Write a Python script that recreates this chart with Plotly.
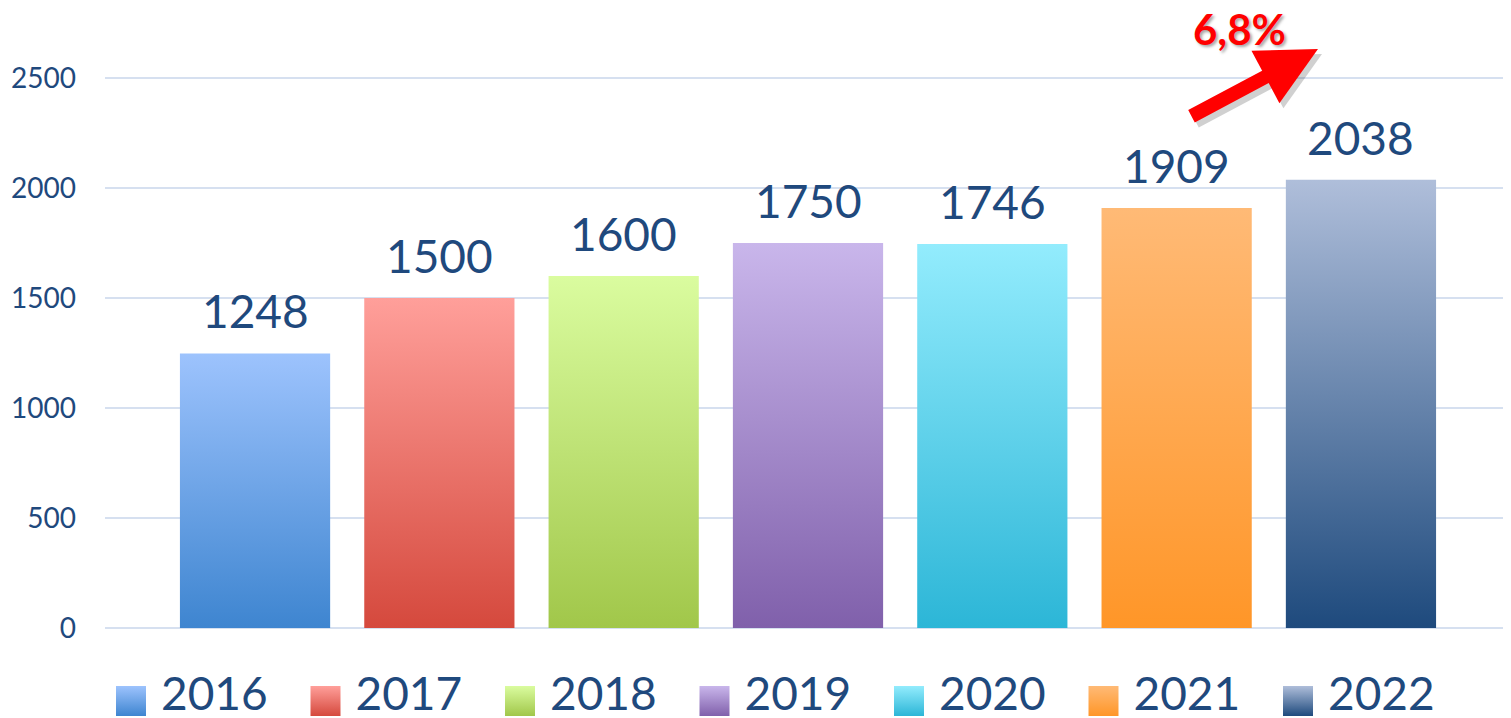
import plotly.graph_objects as go

years = ["2016", "2017", "2018", "2019", "2020", "2021", "2022"]
values = [1248, 1500, 1600, 1750, 1746, 1909, 2038]
top_colors = ["#9DC3FD", "#FF9F9A", "#DAFC9F", "#C9B6EB", "#93ECFD", "#FFBA76", "#AFBEDA"]
bottom_colors = ["#3E85D0", "#D5493D", "#A1C74A", "#8060AB", "#2CB6D7", "#FF9628", "#1E4A7D"]
y_ticks = [0, 500, 1000, 1500, 2000, 2500]
growth_label = "6,8%"

OFF = 8                      # page body margin
W, H = 1511 - OFF, 718 - OFF
TXT = "#1F497D"
FONT = "Lato"

bar_w = 0.815
px_per_cat = 184.33
px_per_unit = 0.22
zero_px = 628 - OFF          # figure pixel of y=0

fig = go.Figure()

# gradient bars (polygons in data coordinates built from the values)
for i, (yr, v) in enumerate(zip(years, values)):
    xs = [i - bar_w / 2, i + bar_w / 2, i + bar_w / 2, i - bar_w / 2, i - bar_w / 2]
    ys = [0, 0, v, v, 0]
    fig.add_trace(go.Scatter(
        x=xs, y=ys, mode="lines", fill="toself", line=dict(width=0),
        fillcolor=top_colors[i],
        fillgradient=dict(type="vertical",
                          colorscale=[[0, bottom_colors[i]], [1, top_colors[i]]]),
        showlegend=False, hoverinfo="skip", name=yr,
    ))

# value labels
for i, v in enumerate(values):
    fig.add_annotation(x=i, y=v, text=str(v), showarrow=False, yanchor="bottom",
                       yshift=13, font=dict(family=FONT, size=46, color=TXT))

# custom legend on overlay axes (figure pixel space)
leg_x0, leg_step, leg_y = 131 - OFF, 194.5, 701 - OFF
lx = [leg_x0 + leg_step * i for i in range(len(years))]
fig.add_trace(go.Scatter(
    x=lx, y=[leg_y] * len(years), xaxis="x2", yaxis="y2", mode="markers",
    marker=dict(symbol="square", size=30, color=top_colors,
                gradient=dict(type="vertical", color=bottom_colors), line=dict(width=0)),
    showlegend=False, hoverinfo="skip"))
fig.add_trace(go.Scatter(
    x=[x + 30 for x in lx], y=[leg_y - 3] * len(years), xaxis="x2", yaxis="y2",
    mode="text", text=years, textposition="middle right",
    textfont=dict(family=FONT, size=46, color=TXT),
    showlegend=False, hoverinfo="skip"))

# growth arrow (reference-pixel helpers mapped to data coordinates)
def dx(px):
    return (px - 255) / px_per_cat
def dy(py):
    return (628 - py) / px_per_unit

fig.add_annotation(x=dx(1322), y=dy(54), ax=dx(1194), ay=dy(122), xref="x", yref="y",
                   axref="x", ayref="y", showarrow=True, arrowhead=2, arrowsize=0.85,
                   arrowwidth=14, arrowcolor="rgba(0,0,0,0.18)", text="")
fig.add_annotation(x=dx(1318), y=dy(49), ax=dx(1190), ay=dy(117), xref="x", yref="y",
                   axref="x", ayref="y", showarrow=True, arrowhead=2, arrowsize=0.85,
                   arrowwidth=14, arrowcolor="#FF0000", text="")
fig.add_annotation(x=dx(1240), y=dy(29), text=f"<b>{growth_label}</b>", showarrow=False,
                   borderpad=0,
                   font=dict(family=FONT, size=42, color="#FF0000",
                             shadow="2px 2px 3px rgba(0,0,0,0.35)"))

fig.update_layout(
    width=W, height=H, margin=dict(l=0, r=0, t=0, b=0),
    paper_bgcolor="white", plot_bgcolor="rgba(0,0,0,0)",
    template="none", showlegend=False,
    xaxis=dict(domain=[(105 - OFF) / W, 1], range=[-0.814, 6.814], showgrid=False,
               zeroline=False, showticklabels=False, showline=False, ticks="",
               fixedrange=True, automargin=False),
    yaxis=dict(domain=[0, 1], range=[(zero_px - H) / px_per_unit, zero_px / px_per_unit],
               tickvals=y_ticks, ticktext=[str(t) for t in y_ticks],
               showgrid=True, gridcolor="#D6E0F0", gridwidth=2, zeroline=False,
               showline=False, ticks="", ticklabelstandoff=28,
               tickfont=dict(family=FONT, size=28, color=TXT), automargin=False),
    xaxis2=dict(domain=[0, 1], anchor="y2", range=[0, W], visible=False),
    yaxis2=dict(domain=[0, 1], anchor="x2", range=[H, 0], visible=False),
)

fig.write_html("out.html")
